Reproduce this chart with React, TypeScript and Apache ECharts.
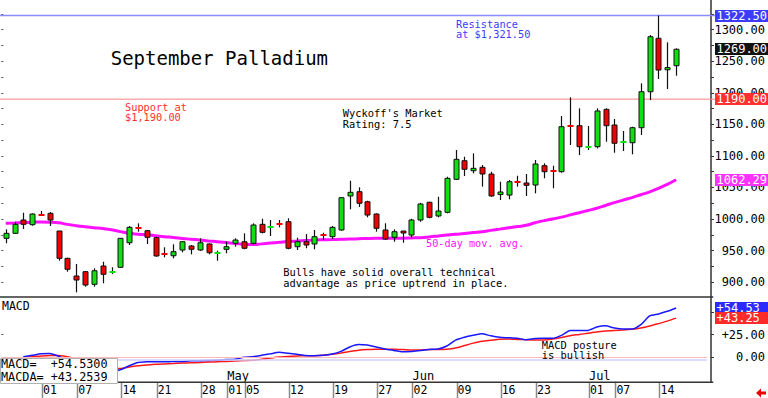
import React, { useEffect, useRef } from 'react';
import * as echarts from 'echarts';

const dates = [
  '2025-03-26','2025-03-27','2025-03-28','2025-03-31',
  '2025-04-01','2025-04-02','2025-04-03','2025-04-04',
  '2025-04-07','2025-04-08','2025-04-09','2025-04-10','2025-04-11',
  '2025-04-14','2025-04-15','2025-04-16','2025-04-17',
  '2025-04-21','2025-04-22','2025-04-23','2025-04-24','2025-04-25',
  '2025-04-28','2025-04-29','2025-04-30','2025-05-01','2025-05-02',
  '2025-05-05','2025-05-06','2025-05-07','2025-05-08','2025-05-09',
  '2025-05-12','2025-05-13','2025-05-14','2025-05-15','2025-05-16',
  '2025-05-19','2025-05-20','2025-05-21','2025-05-22','2025-05-23',
  '2025-05-27','2025-05-28','2025-05-29','2025-05-30',
  '2025-06-02','2025-06-03','2025-06-04','2025-06-05','2025-06-06',
  '2025-06-09','2025-06-10','2025-06-11','2025-06-12','2025-06-13',
  '2025-06-16','2025-06-17','2025-06-18','2025-06-20',
  '2025-06-23','2025-06-24','2025-06-25','2025-06-26','2025-06-27',
  '2025-06-30','2025-07-01','2025-07-02','2025-07-03',
  '2025-07-07','2025-07-08','2025-07-09','2025-07-10','2025-07-11',
  '2025-07-14','2025-07-15','2025-07-16',
];
const emptySlots = ['', '', ''];

const openP = [
  969.4, 977.3, 998.4, 991.0, 1007.1, 1009.0, 981.0, 937.7, 909.7, 916.5,
  896.5, 925.5, 916.0, 923.5, 962.4, 986.8, 981.5, 970.4, 945.0, 941.8,
  950.9, 957.2, 950.9, 960.4, 946.6, 952.0, 961.5, 964.0, 961.5, 991.6,
  987.3, 992.1, 995.7, 956.1, 964.0, 960.4, 975.1, 972.0, 982.6, 1036.5,
  1043.3, 1027.4, 1007.9, 982.6, 971.0, 981.0, 974.6, 998.4, 1026.5, 1004.8,
  1010.6, 1062.9, 1092.4, 1076.5, 1081.9, 1071.3, 1038.8, 1038.0, 1058.6, 1057.1,
  1053.9, 1084.5, 1077.2, 1075.0, 1148.5, 1147.9, 1114.1, 1114.6, 1173.8, 1149.0,
  1122.0, 1120.9, 1144.7, 1201.7, 1286.4, 1236.5, 1242.9,
];
const closeP = [
  977.3, 991.6, 991.6, 1007.9, 1006.3, 998.4, 937.7, 920.3, 903.3, 895.4,
  918.0, 912.4, 917.1, 969.4, 986.8, 985.7, 971.0, 941.4, 944.0, 948.2,
  964.0, 952.0, 962.4, 946.6, 947.2, 956.1, 966.7, 953.6, 990.5, 978.9,
  988.4, 991.0, 953.6, 964.0, 958.8, 972.0, 974.2, 986.8, 1033.8, 1042.3,
  1024.9, 1006.3, 985.3, 968.3, 979.9, 977.8, 998.4, 1023.8, 1002.7, 1012.7,
  1064.5, 1094.6, 1078.8, 1080.3, 1071.3, 1036.5, 1042.8, 1059.1, 1057.5, 1053.4,
  1087.2, 1075.0, 1076.1, 1146.3, 1147.4, 1114.6, 1115.2, 1171.2, 1147.9, 1120.0,
  1123.1, 1144.7, 1201.7, 1288.9, 1236.1, 1240.0, 1269.0,
];
const lowP = [
  961.5, 976.2, 984.2, 989.4, 1005.2, 988.9, 933.9, 916.5, 883.8, 892.7,
  892.7, 898.1, 912.8, 922.8, 958.8, 979.9, 960.4, 940.3, 939.3, 937.7,
  947.2, 944.0, 949.3, 944.0, 933.9, 945.6, 956.1, 952.0, 959.9, 977.3,
  973.1, 986.8, 952.0, 950.9, 953.6, 952.0, 966.7, 968.3, 981.5, 1015.4,
  1019.0, 1002.7, 979.9, 966.7, 964.0, 962.4, 971.0, 995.7, 1001.1, 1002.7,
  1009.0, 1061.8, 1068.1, 1072.4, 1051.2, 1035.3, 1030.1, 1031.2, 1051.2, 1036.5,
  1040.7, 1064.5, 1048.7, 1073.4, 1117.3, 1101.4, 1109.4, 1112.0, 1122.5, 1105.1,
  1107.8, 1102.5, 1133.1, 1188.6, 1221.9, 1206.0, 1227.1,
];
const highP = [
  983.7, 995.7, 1010.0, 1009.0, 1012.7, 1011.0, 981.0, 938.7, 928.7, 917.6,
  921.9, 932.3, 923.5, 969.9, 988.9, 993.2, 982.6, 971.9, 955.2, 959.9,
  965.1, 958.8, 969.4, 961.5, 949.8, 964.0, 969.4, 977.3, 993.2, 1000.5,
  998.4, 998.4, 1001.1, 970.4, 976.2, 982.6, 978.3, 988.9, 1034.4, 1060.7,
  1050.2, 1029.0, 1009.0, 993.2, 983.7, 981.0, 1000.5, 1025.8, 1027.4, 1035.3,
  1067.0, 1109.4, 1098.7, 1104.1, 1085.6, 1075.0, 1059.1, 1061.8, 1068.6, 1071.3,
  1093.5, 1088.3, 1084.5, 1163.2, 1192.9, 1175.4, 1147.4, 1175.4, 1175.4, 1158.5,
  1139.5, 1146.3, 1215.0, 1291.6, 1322.5, 1280.0, 1270.5,
];

const ma50 = [
  993.2, 993.8, 994.5, 995.0, 995.3, 995.0, 994.0, 991.5, 989.5, 987.8,
  986.3, 985.0, 983.0, 980.0, 977.3, 976.0, 975.0, 973.5, 972.0, 970.8,
  969.3, 968.0, 966.7, 965.3, 964.0, 962.6, 961.0, 960.0, 959.5, 960.6,
  961.8, 963.0, 964.3, 965.0, 965.8, 966.6, 967.1, 967.5, 967.9, 968.2,
  968.7, 969.2, 969.4, 969.4, 969.4, 969.6, 970.0, 970.5, 971.6, 973.0,
  974.5, 975.9, 977.0, 978.5, 979.9, 982.0, 984.0, 986.0, 988.0, 990.0,
  994.0, 997.5, 1000.0, 1003.0, 1006.5, 1010.0, 1013.5, 1017.0, 1021.5, 1026.0,
  1030.0, 1034.0, 1038.5, 1043.0, 1048.5, 1055.0, 1062.29,
];

const macd = [
  null, null, 0.3, 1.9, 3.5, 3.9, 0.8, -4.0, -8.3, -11.6,
  -13.8, -15.4, -15.9, -14.1, -9.8, -6.2, -5.3, -5.2, -5.2, -5.1,
  -4.9, -4.3, -4.2, -3.8, -3.5, -2.9, -2.4, -0.2, 0.3, 1.9,
  3.5, 5.2, 4.1, 3.0, 1.6, 1.4, 1.9, 3.3, 6.2, 11.1,
  13.8, 13.3, 11.1, 8.9, 7.3, 5.7, 6.2, 7.3, 8.4, 8.8,
  12.2, 18.7, 21.9, 24.1, 25.8, 23.5, 21.9, 21.4, 20.8, 19.2,
  20.5, 20.8, 20.8, 24.1, 29.5, 29.5, 29.5, 33.3, 34.6, 32.2,
  31.1, 31.1, 36.0, 45.7, 47.9, 50.8, 54.53,
];
const macdAvg = [
  null, null, -0.2, 0.3, 1.2, 1.8, 1.6, 0.3, -2.4, -5.1,
  -7.8, -10.5, -12.5, -12.7, -11.1, -9.8, -8.9, -8.1, -7.7, -7.3,
  -6.8, -6.5, -6.2, -5.7, -5.3, -4.9, -4.5, -4.0, -3.7, -2.5,
  -1.2, 0.0, 0.6, 1.1, 1.4, 1.5, 1.9, 3.0, 4.4, 6.0,
  7.4, 8.2, 8.5, 8.7, 8.5, 8.2, 7.7, 7.9, 8.2, 8.4,
  8.7, 10.0, 12.7, 15.4, 17.6, 18.7, 19.8, 20.0, 19.5, 19.2,
  19.0, 19.0, 20.0, 21.7, 23.7, 25.0, 26.4, 27.8, 28.8, 29.5,
  30.0, 30.8, 32.2, 34.4, 37.1, 39.9, 43.25,
];

const macdReadout = 54.53;
const macdAvgReadout = 43.2539;

const tickDates = [
  '2025-04-01','2025-04-07','2025-04-14','2025-04-21','2025-04-28',
  '2025-05-01','2025-05-05','2025-05-12','2025-05-19','2025-05-27',
  '2025-06-02','2025-06-09','2025-06-16','2025-06-23',
  '2025-07-01','2025-07-07','2025-07-14',
];
const monthStarts = ['2025-05-01', '2025-06-02', '2025-07-01'];
const monthNames = ['May', 'Jun', 'Jul'];

const priceLabels = [900, 950, 1000, 1050, 1100, 1150, 1200, 1250, 1300];
const priceTicks = [900, 925, 950, 975, 1000, 1025, 1050, 1075, 1100, 1125, 1150, 1175, 1200, 1225, 1250, 1275, 1300, 1325];
const macdLabels = [0, 25];
const macdTicks = [0, 25, 50];

const resistance = 1322.5;
const support = 1190;

const FONT = '"DejaVu Sans Mono", monospace';
const GREEN = '#10e010';
const RED = '#f00000';
const MAGENTA = '#ff10ff';

export default function App() {
  const ref = useRef<HTMLDivElement>(null);

  useEffect(() => {
    document.body.style.margin = '0';
    const chart = echarts.init(ref.current!, null, { renderer: 'svg' });
    const cats = [...dates, ...emptySlots];
    const candleData = dates.map((d, i) => [i, openP[i], closeP[i], lowP[i], highP[i]]);

    const option: any = {
      animation: false,
      backgroundColor: '#ffffff',
      grid: [
        { left: 1.3, top: 0, width: 708, height: 296.5 },
        { left: 1.3, top: 297, width: 708, height: 85 },
      ],
      xAxis: [
        {
          type: 'category', gridIndex: 0, data: cats, boundaryGap: true,
          axisLine: { show: false }, axisTick: { show: false }, axisLabel: { show: false },
        },
        {
          type: 'category', gridIndex: 1, data: cats, boundaryGap: true,
          axisLine: { show: false },
          axisTick: { show: false },
          axisLabel: {
            interval: (idx: number, v: string) => tickDates.includes(v),
            formatter: (v: string) => v.slice(8),
            align: 'left', padding: [0, 0, 0, 2], margin: 2,
            color: '#000', fontFamily: FONT, fontSize: 11.5,
          },
        },
        {
          type: 'category', gridIndex: 1, data: cats, boundaryGap: true, position: 'bottom',
          axisLine: { show: false }, axisTick: { show: false },
          axisLabel: {
            inside: true,
            interval: (idx: number, v: string) => monthStarts.includes(v),
            formatter: (v: string) => monthNames[monthStarts.indexOf(v)] ?? '',
            align: 'left', padding: [0, 0, 0, 1], margin: 0,
            color: '#000', fontFamily: FONT, fontSize: 12,
          },
        },
      ],
      yAxis: [
        {
          type: 'value', gridIndex: 0, position: 'right', offset: 4, min: 877.2, max: 1347.1,
          splitLine: { show: false },
          axisLine: { show: true, lineStyle: { color: '#333', width: 1.5 } },
          axisTick: { show: true, length: 3, customValues: priceTicks, lineStyle: { color: '#333' } },
          axisLabel: {
            customValues: priceLabels, formatter: (v: number) => Number(v).toFixed(2),
            align: 'right', margin: 54, color: '#000', fontFamily: FONT, fontSize: 12,
          },
        },
        {
          type: 'value', gridIndex: 0, position: 'left', min: 877.2, max: 1347.1,
          splitLine: { show: false }, axisLine: { show: false },
          axisTick: { show: true, inside: true, length: 2, customValues: priceTicks, lineStyle: { color: '#555' } },
          axisLabel: { show: false },
        },
        {
          type: 'value', gridIndex: 1, position: 'right', offset: 4, min: -27.8, max: 66.7,
          splitLine: { show: false },
          axisLine: { show: true, lineStyle: { color: '#333', width: 1.5 } },
          axisTick: { show: true, length: 3, customValues: macdTicks, lineStyle: { color: '#333' } },
          axisLabel: {
            customValues: macdLabels,
            formatter: (v: number) => (v > 0 ? '+' : '') + Number(v).toFixed(2),
            align: 'right', margin: 54, color: '#000', fontFamily: FONT, fontSize: 12,
          },
        },
        {
          type: 'value', gridIndex: 1, position: 'left', min: -27.8, max: 66.7,
          splitLine: { show: false }, axisLine: { show: false },
          axisTick: { show: true, inside: true, length: 2, customValues: [25], lineStyle: { color: '#555' } },
          axisLabel: { show: false },
        },
      ],
      series: [
        {
          type: 'line', xAxisIndex: 0, yAxisIndex: 0, data: ma50, smooth: true, showSymbol: false,
          lineStyle: { color: MAGENTA, width: 3 }, silent: true, z: 2,
        },
        {
          type: 'custom', xAxisIndex: 0, yAxisIndex: 0, data: candleData, z: 3, silent: true,
          encode: { x: 0, y: [1, 2, 3, 4] },
          renderItem: (params: any, api: any) => {
            const i = api.value(0);
            const o = api.value(1), c = api.value(2), l = api.value(3), h = api.value(4);
            const pO = api.coord([i, o]);
            const pC = api.coord([i, c]);
            const pL = api.coord([i, l]);
            const pH = api.coord([i, h]);
            const cx = Math.round(pO[0]) + 0.5;
            const color = c >= o ? GREEN : RED;
            const top = Math.min(pO[1], pC[1]);
            const bot = Math.max(pO[1], pC[1]);
            const children: any[] = [
              { type: 'line', shape: { x1: cx, y1: pH[1], x2: cx, y2: pL[1] }, style: { stroke: '#111', lineWidth: 1.2 } },
            ];
            if (bot - top < 2) {
              const ym = Math.round((top + bot) / 2);
              children.push({ type: 'line', shape: { x1: cx - 3, y1: ym, x2: cx + 3, y2: ym }, style: { stroke: color, lineWidth: 2 } });
            } else {
              children.push({ type: 'rect', shape: { x: cx - 2.5, y: top, width: 5, height: bot - top }, style: { fill: color, stroke: '#111', lineWidth: 1 } });
            }
            return { type: 'group', children };
          },
        },
        {
          type: 'line', xAxisIndex: 1, yAxisIndex: 2, data: macdAvg, showSymbol: false, smooth: 0.2,
          lineStyle: { color: '#ff1818', width: 1.5 }, silent: true, z: 3,
          markLine: {
            silent: true, symbol: 'none', label: { show: false }, animation: false,
            data: [
              { yAxis: 0, lineStyle: { color: '#ffb8b8', width: 1, type: 'solid' } },
              { yAxis: -3.3, lineStyle: { color: '#d0d0ff', width: 1.5, type: 'solid' } },
            ],
          },
        },
        {
          type: 'line', xAxisIndex: 1, yAxisIndex: 2, data: macd, showSymbol: false, smooth: 0.2,
          lineStyle: { color: '#1818ff', width: 1.5 }, silent: true, z: 4,
        },
      ],
    };
    chart.setOption(option);

    const yP = (v: number) => chart.convertToPixel({ yAxisIndex: 0 } as any, v) as unknown as number;
    const yM = (v: number) => chart.convertToPixel({ yAxisIndex: 2 } as any, v) as unknown as number;
    const xD = (d: string) => chart.convertToPixel({ xAxisIndex: 1 } as any, d) as unknown as number;

    const txt = (x: number, y: number, text: string, size: number, fill: string, opts: any = {}) => ({
      type: 'text', x, y, z: opts.z ?? 20,
      style: {
        text, fill, font: `${size}px ${FONT}`,
        verticalAlign: opts.va ?? 'top', align: 'left',
        lineHeight: opts.lh ?? size + 1,
      },
    });
    const tag = (y: number, text: string, bg: string) => {
      const yy = Math.round(y);
      return [
        { type: 'rect', z: 50, shape: { x: 715, y: yy - 6, width: 53, height: 12 }, style: { fill: bg } },
        { type: 'text', z: 51, x: 716.5, y: yy, style: { text, fill: '#ffffff', font: `12px ${FONT}`, verticalAlign: 'middle', align: 'left' } },
      ];
    };

    const yRes = yP(resistance);
    const ySup = yP(support);
    const lastClose = closeP[closeP.length - 1];
    const lastMa = ma50[ma50.length - 1];
    const lastMacd = macd[macd.length - 1] as number;
    const lastAvg = macdAvg[macdAvg.length - 1] as number;

    const dayTicks = tickDates.map((d) => {
      const x = Math.round(xD(d)) + 1.5;
      return { type: 'line', z: 9, shape: { x1: x, y1: 382, x2: x, y2: 398 }, style: { stroke: '#8a8a8a', lineWidth: 1.5 } };
    });

    const graphics: any[] = [
      { type: 'line', z: 1, shape: { x1: 0, y1: yRes, x2: 716, y2: yRes }, style: { stroke: '#8c8cff', lineWidth: 1.5 } },
      { type: 'line', z: 1, shape: { x1: 0, y1: ySup, x2: 716, y2: ySup }, style: { stroke: '#ff8080', lineWidth: 1 } },
      { type: 'line', z: 10, shape: { x1: 0, y1: 297, x2: 713.3, y2: 297 }, style: { stroke: '#333', lineWidth: 1.5 } },
      { type: 'line', z: 10, shape: { x1: 0, y1: 382.2, x2: 713.3, y2: 382.2 }, style: { stroke: '#333', lineWidth: 1.5 } },
      ...dayTicks,
      txt(110.7, 58, 'September Palladium', 19, '#000', { va: 'middle' }),
      txt(456, 19, 'Resistance\nat $1,321.50', 10.3, '#3c3cff', { lh: 10 }),
      txt(125, 101.7, 'Support at\n$1,190.00', 10.3, '#ff3030', { lh: 10 }),
      txt(342.7, 107.5, "Wyckoff's Market\nRating: 7.5", 10.4, '#000', { lh: 11 }),
      txt(283.3, 266.5, 'Bulls have solid overall technical\nadvantage as price uptrend in place.', 10.4, '#000', { lh: 11 }),
      txt(426, 243, '50-day mov. avg.', 10.2, MAGENTA, { va: 'middle' }),
      txt(541.7, 339.7, 'MACD posture\nis bullish', 10.4, '#000', { lh: 10.5 }),
      txt(2, 306, 'MACD', 11.5, '#000', { va: 'middle' }),
      { type: 'rect', z: 60, shape: { x: 0.5, y: 358.5, width: 117, height: 25 }, style: { fill: '#ffffff', stroke: '#b0b0b0', lineWidth: 1 } },
      txt(1, 357.8, `MACD=  +${macdReadout.toFixed(4)}\nMACDA= +${macdAvgReadout.toFixed(4)}`, 11.8, '#000', { lh: 12.7, z: 61 }),
      ...tag(yRes, resistance.toFixed(2), '#3c3cff'),
      ...tag(yP(lastClose), lastClose.toFixed(2), '#111111'),
      ...tag(ySup, support.toFixed(2), '#ff3030'),
      ...tag(yP(lastMa), lastMa.toFixed(2), '#ff33ff'),
      ...tag(yM(lastMacd), '+' + lastMacd.toFixed(2), '#2b2bff'),
      ...tag(yM(lastAvg), '+' + lastAvg.toFixed(2), '#ff2b2b'),
      {
        type: 'polygon', z: 30,
        shape: { points: [[756, 393], [761, 388.5], [761, 391.5], [766, 391.5], [766, 394.5], [761, 394.5], [761, 397.5]] },
        style: { fill: '#ee0000' },
      },
    ];
    chart.setOption({ graphic: graphics });

    return () => chart.dispose();
  }, []);

  return <div ref={ref} style={{ width: 768, height: 398 }} />;
}
